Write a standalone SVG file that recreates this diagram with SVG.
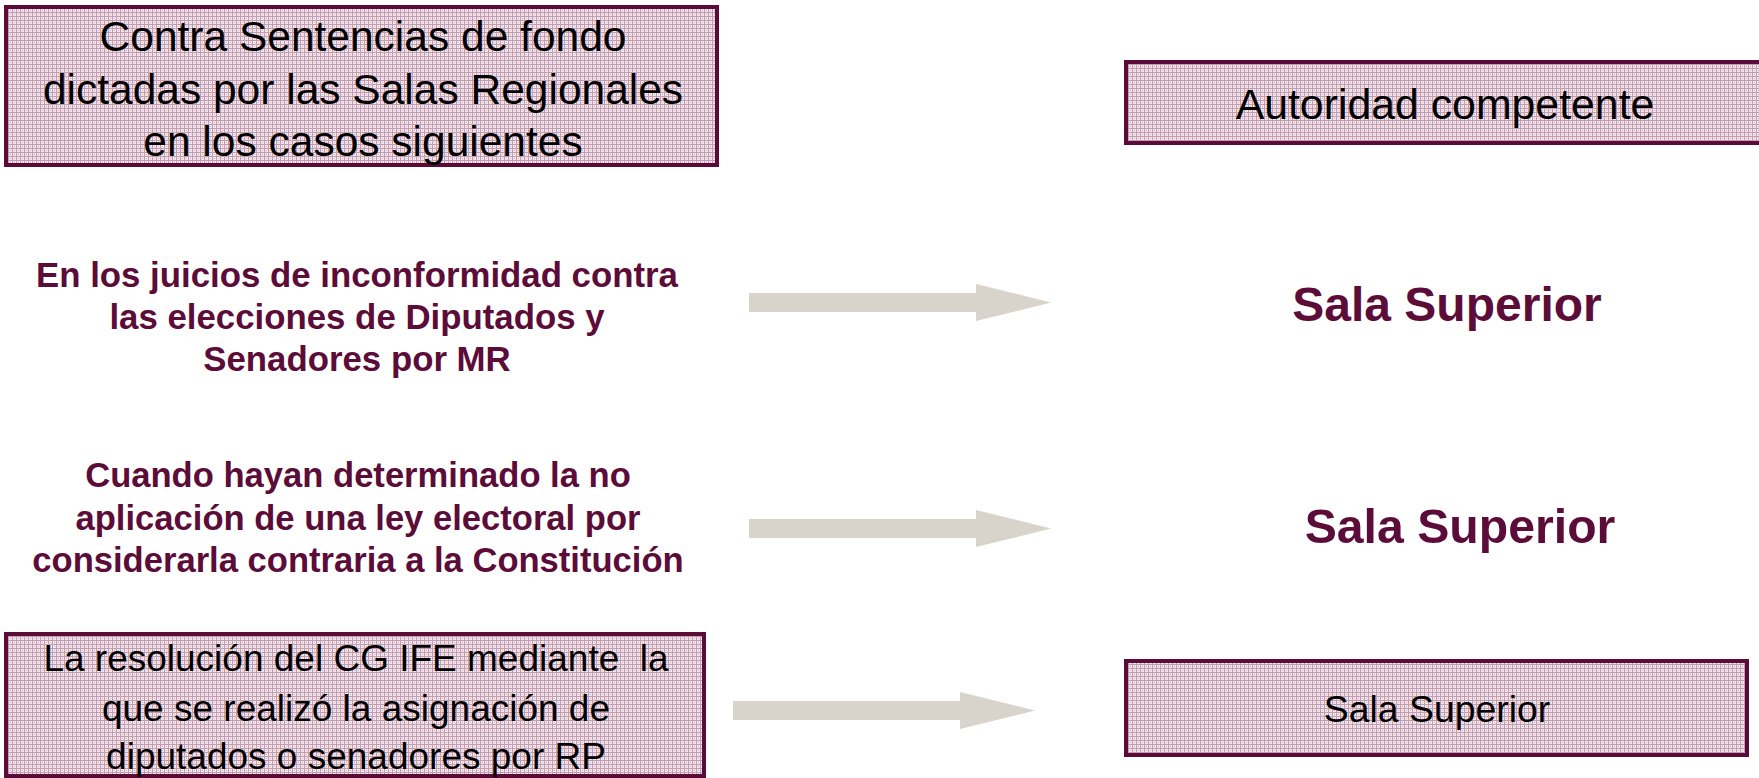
<svg xmlns="http://www.w3.org/2000/svg" width="1759" height="778" viewBox="0 0 1759 778">
<defs>
<pattern id="grid" width="4" height="4" patternUnits="userSpaceOnUse">
<rect width="4" height="4" fill="#f1e6eb"/>
<rect x="0" y="0" width="1" height="4" fill="#c49cb0"/>
<rect x="0" y="0" width="4" height="1" fill="#c49cb0"/>
<rect x="2" y="2" width="1" height="1" fill="#d7b9c7"/>
</pattern>
</defs>
<style>
.box{fill:url(#grid);stroke:#5a0b37;stroke-width:4}
.plain{font-family:"Liberation Sans",Arial,sans-serif;fill:#000;text-anchor:middle}
.bold{font-family:"Liberation Sans",Arial,sans-serif;font-weight:bold;fill:#5c0c38;text-anchor:middle}
.arrow{fill:#d8d4cc}
</style>
<rect width="1759" height="778" fill="#fff"/>
<g id="header-left">
<rect class="box" x="6" y="7" width="711" height="158"/>
<text class="plain" font-size="42.5" x="363" y="51">Contra Sentencias de fondo</text>
<text class="plain" font-size="42.5" x="363" y="104">dictadas por las Salas Regionales</text>
<text class="plain" font-size="42.5" x="363" y="156">en los casos siguientes</text>
</g>
<g id="header-right">
<rect class="box" x="1126" y="62" width="640" height="81"/>
<text class="plain" font-size="42.8" x="1445" y="119">Autoridad competente</text>
</g>
<g id="case1">
<text class="bold" font-size="34.8" x="357" y="287">En los juicios de inconformidad contra</text>
<text class="bold" font-size="34.8" x="357" y="329">las elecciones de Diputados y</text>
<text class="bold" font-size="34.8" x="357" y="371">Senadores por MR</text>
</g>
<g id="result1">
<text class="bold" font-size="48" x="1447" y="321">Sala Superior</text>
</g>
<g id="case2">
<text class="bold" font-size="34.6" x="358" y="487">Cuando hayan determinado la no</text>
<text class="bold" font-size="34.6" x="358" y="530">aplicación de una ley electoral por</text>
<text class="bold" font-size="34.6" x="358" y="572">considerarla contraria a la Constitución</text>
</g>
<g id="result2">
<text class="bold" font-size="48.2" x="1460" y="543">Sala Superior</text>
</g>
<g id="case3">
<rect class="box" x="6" y="634" width="698" height="142"/>
<text class="plain" font-size="37" x="356" y="671" xml:space="preserve">La resolución del CG IFE mediante  la</text>
<text class="plain" font-size="37" x="356" y="721">que se realizó la asignación de</text>
<text class="plain" font-size="37" x="356" y="769">diputados o senadores por RP</text>
</g>
<g id="result3">
<rect class="box" x="1126" y="661" width="621" height="94"/>
<text class="plain" font-size="37.4" x="1437" y="722">Sala Superior</text>
</g>
<g id="connectors">
<polygon class="arrow" points="749,293 976,293 976,284 1051,302.5 976,321 976,312 749,312"/>
<polygon class="arrow" points="749,519 976,519 976,510 1051,528.5 976,547 976,538 749,538"/>
<polygon class="arrow" points="733,701 960,701 960,692 1035,710.5 960,729 960,720 733,720"/>
</g>
</svg>
